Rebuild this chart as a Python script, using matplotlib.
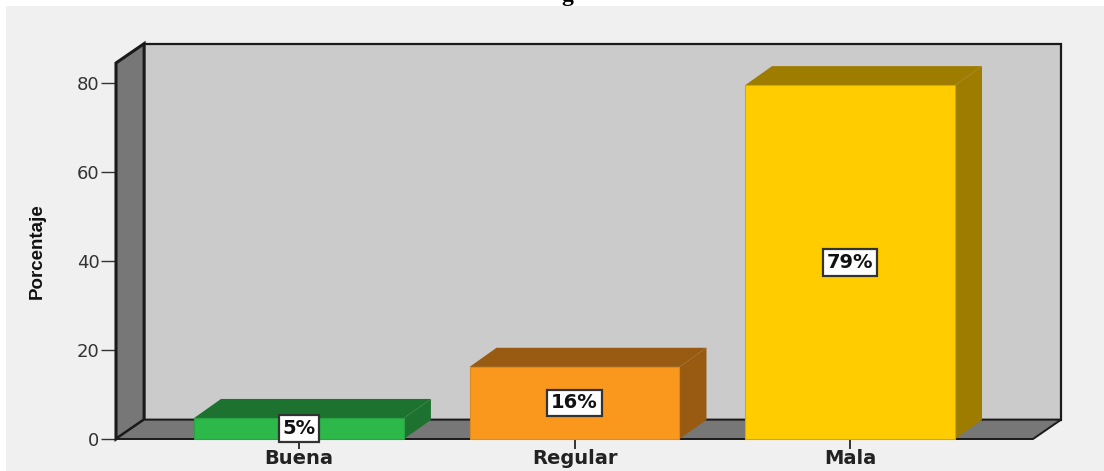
import matplotlib
matplotlib.use("Agg")
import matplotlib.pyplot as plt
from matplotlib.patches import Polygon, Rectangle

categories = ["Buena", "Regular", "Mala"]
values = [4.7, 16.2, 79.5]
labels = ["5%", "16%", "79%"]
colors = ["#2DB84A", "#FA981E", "#FFCC00"]
edge_colors = ["#2AA344", "#D98A20", "#D4AA00"]
side_colors = ["#1E7230", "#985B11", "#9E7C00"]
y_ticks = [0, 20, 40, 60, 80]

W, H = 1104, 471
DEPTH_X = 0.102  # depth of the 3d box, in axis units
DEPTH_Y = 4.35
BAR_DX = 0.098
BAR_DY = 4.3
BAR_W = 0.762
XLIM = (-0.664, 2.664)
YLIM = (0, 84.5)
WALL = "#CBCBCB"
DARK = "#777777"
LINE = "#1A1A1A"


def px_axes(fig, left, top, right, bottom):
    return fig.add_axes([left / W, 1 - bottom / H, (right - left) / W, (bottom - top) / H])


fig = plt.figure(figsize=(W / 100, H / 100), dpi=100, facecolor="white")
fig.add_artist(Rectangle((6 / W, 0), 1, 1 - 6 / H, transform=fig.transFigure,
                         facecolor="#F0F0F0", edgecolor="none", zorder=-5))
fig.text(567 / W, 1 - 1 / H, "g", family="Liberation Serif", weight="bold", fontsize=17,
         ha="center", va="baseline", color="black", zorder=-4)

ax = px_axes(fig, 116, 63, 1033, 439)
ax.set_xlim(*XLIM)
ax.set_ylim(*YLIM)
ax.patch.set_visible(False)
for s in ax.spines.values():
    s.set_visible(False)

x0, x1 = XLIM
y0, y1 = YLIM
dx, dy = DEPTH_X, DEPTH_Y
# back wall, left wall, floor
ax.add_patch(Polygon([(x0 + dx, y0 + dy), (x1 + dx, y0 + dy), (x1 + dx, y1 + dy), (x0 + dx, y1 + dy)],
                     facecolor=WALL, edgecolor=LINE, lw=1.6, clip_on=False, zorder=1))
ax.add_patch(Polygon([(x0, y0), (x0 + dx, y0 + dy), (x0 + dx, y1 + dy), (x0, y1)],
                     facecolor=DARK, edgecolor=LINE, lw=2.2, clip_on=False, zorder=2))
ax.add_patch(Polygon([(x0, y0), (x1, y0), (x1 + dx, y0 + dy), (x0 + dx, y0 + dy)],
                     facecolor=DARK, edgecolor=LINE, lw=1.4, clip_on=False, zorder=2))

for i, (v, lab, c, e, side) in enumerate(zip(values, labels, colors, edge_colors, side_colors)):
    l, r = i - BAR_W / 2, i + BAR_W / 2
    ax.add_patch(Polygon([(r, 0), (r + BAR_DX, BAR_DY), (r + BAR_DX, v + BAR_DY), (r, v)],
                         facecolor=side, edgecolor="none", clip_on=False, zorder=3))
    ax.add_patch(Polygon([(l, v), (r, v), (r + BAR_DX, v + BAR_DY), (l + BAR_DX, v + BAR_DY)],
                         facecolor=side, edgecolor="none", clip_on=False, zorder=3))
    ax.bar(i, v, BAR_W, color=c, edgecolor=e, linewidth=0.8, zorder=4, clip_on=False)
    ax.text(i, v / 2 if v > 5 else 2.3, lab, ha="center", va="center", fontsize=14, weight="bold",
            family="DejaVu Sans", color="#111111", zorder=6,
            bbox=dict(boxstyle="square,pad=0.2", facecolor="white", edgecolor="#333333", lw=1.6))

ax.set_xticks(range(len(categories)), categories)
ax.set_yticks(y_ticks)
ax.tick_params(axis="x", length=7, width=1.4, color="#333333", pad=0, labelsize=14)
ax.tick_params(axis="y", length=11, width=1.0, color="#333333", pad=1, labelsize=13, labelcolor="#333333")
for t in ax.get_xticklabels():
    t.set_fontweight("bold")
    t.set_color("#222222")
fig.text(37 / W, 1 - 251 / H, "Porcentaje", rotation=90, ha="center", va="center",
         family="Liberation Sans", weight="bold", fontsize=13.5, color="#111111")

fig.savefig("out.png", dpi=100)
